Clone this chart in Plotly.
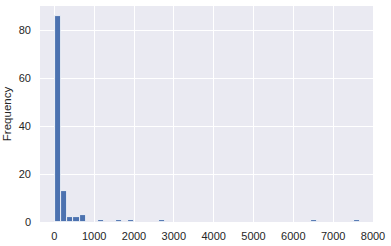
import plotly.graph_objects as go

# Histogram data (50 equal bins)
bin_start = 20.0
bin_width = 153.0
bin_index = [0, 1, 2, 3, 4, 7, 10, 12, 17, 42, 49]
counts = [86, 13, 2, 2, 3, 1, 1, 1, 1, 1, 1]

x_ticks = [0, 1000, 2000, 3000, 4000, 5000, 6000, 7000, 8000]
y_ticks = [0, 20, 40, 60, 80]

centers = [bin_start + (i + 0.5) * bin_width for i in bin_index]

fig = go.Figure()
fig.add_trace(go.Bar(
    x=centers, y=counts, width=[bin_width] * len(centers),
    marker=dict(color="#4C72B0", line=dict(color="white", width=0.8)),
    showlegend=False,
))

font = dict(family="Liberation Sans, Arial, sans-serif", size=11, color="#262626")
fig.update_layout(
    width=391, height=246,
    margin=dict(l=40, r=18, t=6, b=24),
    paper_bgcolor="white", plot_bgcolor="#EAEAF2",
    font=font, bargap=0,
)
fig.update_xaxes(
    range=[-360, 8000], tickvals=x_ticks, ticktext=[str(v) for v in x_ticks],
    showgrid=True, gridcolor="white", gridwidth=1, zeroline=False,
    showline=False, ticks="", ticklen=0, ticklabelstandoff=6, automargin=False,
)
fig.update_yaxes(
    range=[0, 90.3], tickvals=y_ticks, ticktext=[str(v) for v in y_ticks],
    showgrid=True, gridcolor="white", gridwidth=1, zeroline=False,
    showline=False, ticks="", ticklabelstandoff=8, automargin=False,
    title=dict(text="Frequency", font=dict(size=11.5), standoff=4),
)
fig.write_html("out.html")
